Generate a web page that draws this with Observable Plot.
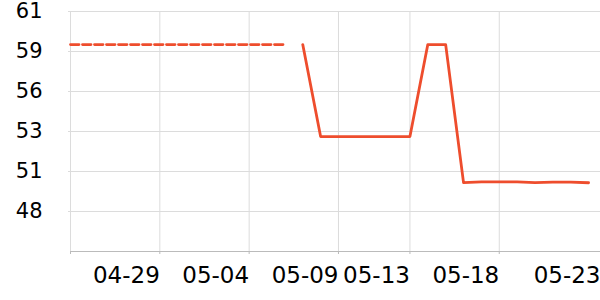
<!DOCTYPE html>
<html>
<head>
<meta charset="utf-8">
<script src="https://cdn.jsdelivr.net/npm/d3@7"></script>
<script src="https://cdn.jsdelivr.net/npm/@observablehq/plot@0.6"></script>
<style>
  html, body { margin: 0; padding: 0; background: #fff; }
  svg { font-family: "DejaVu Sans", sans-serif; }
</style>
</head>
<body>
<div id="chart"></div>
<script>
// Dashed (reference) series
const dashedDates = ["2024-04-24","2024-04-25","2024-04-26","2024-04-27","2024-04-28","2024-04-29","2024-04-30",
  "2024-05-01","2024-05-02","2024-05-03","2024-05-04","2024-05-05","2024-05-06"];
const dashedValues = [59.05,59.05,59.05,59.05,59.05,59.05,59.05,59.05,59.05,59.05,59.05,59.05,59.05];

// Solid series
const solidDates = ["2024-05-07","2024-05-08","2024-05-09","2024-05-10","2024-05-11","2024-05-12","2024-05-13",
  "2024-05-14","2024-05-15","2024-05-16","2024-05-17","2024-05-18","2024-05-19","2024-05-20","2024-05-21","2024-05-22","2024-05-23"];
const solidValues = [59.05,53.07,53.07,53.07,53.07,53.07,53.07,59.05,59.05,50.08,50.12,50.12,50.12,50.08,50.11,50.11,50.07];

// Axis ticks
const yTicks = [61.2, 58.6, 56.0, 53.4, 50.8, 48.2];
const yTickLabels = ["61","59","56","53","51","48"];
const xGridDates = ["2024-04-24","2024-04-29","2024-05-04","2024-05-09","2024-05-13","2024-05-18"];
const xTickLabels = ["04-29","05-04","05-09","05-13","05-18","05-23"];
const xDomain = ["2024-04-24T00:00Z","2024-05-23T16:00Z"];
const yDomain = [45.6, 61.2];

const P = s => new Date(s.length === 10 ? s + "T00:00Z" : s);
const dashed = dashedDates.map((d, i) => ({date: P(d), value: dashedValues[i]}));
const solid = solidDates.map((d, i) => ({date: P(d), value: solidValues[i]}));
const labelPos = xTickLabels.map((l, i) => i === xTickLabels.length - 1 ? P(xDomain[1]) : P("2024-" + l));
const labelMap = new Map(labelPos.map((d, i) => [+d, xTickLabels[i]]));
const yLabelMap = new Map(yTicks.map((v, i) => [v, yTickLabels[i]]));

const color = "#ee4d2d";

const chart = Plot.plot({
  width: 600,
  height: 300,
  marginLeft: 70,
  marginRight: 0,
  marginTop: 11,
  marginBottom: 49,
  x: {type: "utc", domain: xDomain.map(P), label: null},
  y: {domain: yDomain, label: null},
  marks: [
    Plot.gridY(yTicks, {stroke: "#dcdcdc", strokeOpacity: 1}),
    Plot.gridX(xGridDates.map(P), {stroke: "#dcdcdc", strokeOpacity: 1}),
    Plot.axisY(yTicks, {tickSize: 2, tickPadding: 26, stroke: "#dcdcdc", fontSize: 21, fill: "#000",
      label: null, tickFormat: v => yLabelMap.get(v)}),
    Plot.ruleY([yDomain[0]], {stroke: "#bbbbbb"}),
    Plot.axisX(xGridDates.map(P), {tickSize: 3, stroke: "#bbbbbb", label: null, tickFormat: () => ""}),
    Plot.axisX(labelPos, {tickSize: 0, tickPadding: 15, textAnchor: "end", fontSize: 23, fill: "#000",
      label: null, tickFormat: d => labelMap.get(+d)}),
    Plot.line(dashed, {x: "date", y: "value", stroke: color, strokeWidth: 2.8, strokeDasharray: "8.5,3.5"}),
    Plot.line(solid, {x: "date", y: "value", stroke: color, strokeWidth: 2.8})
  ]
});
document.getElementById("chart").append(chart);
</script>
</body>
</html>
